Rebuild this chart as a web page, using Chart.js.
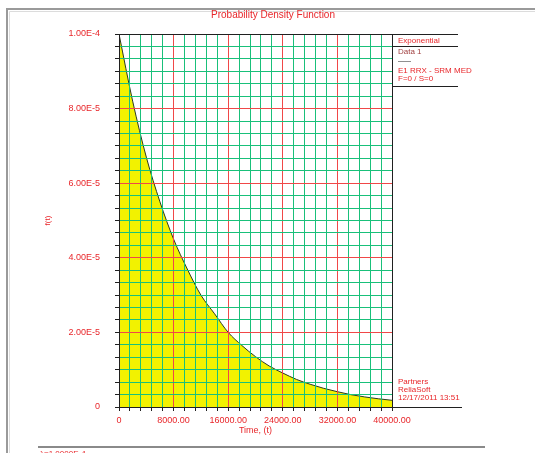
<!DOCTYPE html>
<html>
<head>
<meta charset="utf-8">
<script src="https://cdn.jsdelivr.net/npm/chart.js@4.4.1/dist/chart.umd.min.js"></script>
<style>
    html, body { margin: 0; padding: 0; background: #fff; }
    #wrap { position: relative; width: 535px; height: 453px; }
</style>
</head>
<body>
<div id="wrap"><canvas id="graficoPdf"></canvas></div>
<script>
// Valores: tiempo (t) y densidad f(t)
const tiempos = [0, 2000, 4000, 6000, 8000, 10000, 12000, 14000, 16000, 18000, 20000,
    22000, 24000, 26000, 28000, 30000, 32000, 34000, 36000, 38000, 40000];
const densidad = [1.00e-4, 8.2e-5, 6.7e-5, 5.5e-5, 4.5e-5, 3.7e-5, 3.0e-5, 2.5e-5, 2.0e-5, 1.65e-5, 1.35e-5,
    1.1e-5, 9.1e-6, 7.4e-6, 6.1e-6, 5.0e-6, 4.1e-6, 3.3e-6, 2.7e-6, 2.2e-6, 1.8e-6];

// Marcas de los ejes
const xTicks = [0, 8000, 16000, 24000, 32000, 40000];
const xTickLabels = ['0', '8000.00', '16000.00', '24000.00', '32000.00', '40000.00'];
const yTicks = [0, 2e-5, 4e-5, 6e-5, 8e-5, 1e-4];
const yTickLabels = ['0', '2.00E-5', '4.00E-5', '6.00E-5', '8.00E-5', '1.00E-4'];
const xDivisiones = 5; // lineas menores entre marcas
const yDivisiones = 6;

// Textos de la leyenda
const leyendaArriba = ['Exponential', 'Data 1', 'E1 RRX - SRM MED', 'F=0 / S=0'];
const leyendaAbajo = ['Partners', 'ReliaSoft', '12/17/2011 13:51'];

const ROJO = '#e8262a';
const VERDE = '#19c07a';
const FUENTE = '"Liberation Sans", Arial, sans-serif';

// Genera las marcas mayores y menores de la grilla
function construirTicks(mayores, etiquetas, divisiones) {
    const lista = [];
    for (let i = 0; i < mayores.length; i++) {
        lista.push({ value: mayores[i], texto: etiquetas[i] });
        if (i < mayores.length - 1) {
            const paso = (mayores[i + 1] - mayores[i]) / divisiones;
            for (let k = 1; k < divisiones; k++) {
                lista.push({ value: mayores[i] + paso * k });
            }
        }
    }
    return lista;
}

function colorGrilla(ctx) {
    return ctx.tick && ctx.tick.texto !== undefined ? '#f04848' : VERDE;
}

// Dibuja el marco, el titulo y la leyenda lateral
const marcoPlugin = {
    id: 'marco',
    afterDraw(chart) {
        const c = chart.ctx;
        const area = chart.chartArea;
        c.save();

        // marco gris exterior
        c.strokeStyle = '#9a9a9a';
        c.lineWidth = 2;
        c.beginPath();
        c.moveTo(7, 453);
        c.lineTo(7, 9);
        c.lineTo(535, 9);
        c.stroke();
        c.strokeStyle = '#dcdcdc';
        c.lineWidth = 1;
        c.beginPath();
        c.moveTo(9.5, 453);
        c.lineTo(9.5, 11.5);
        c.lineTo(535, 11.5);
        c.stroke();
        c.strokeStyle = '#8a8a8a';
        c.lineWidth = 2;
        c.beginPath();
        c.moveTo(38, 447);
        c.lineTo(485, 447);
        c.stroke();

        // bordes negros del area y lineas de la leyenda
        c.strokeStyle = '#202020';
        c.lineWidth = 1;
        const der = Math.round(area.right) + 0.5;
        c.beginPath();
        c.moveTo(area.left, Math.round(area.top) + 0.5);
        c.lineTo(458, Math.round(area.top) + 0.5);
        c.moveTo(der, area.top);
        c.lineTo(der, area.bottom);
        c.moveTo(der, 46.5);
        c.lineTo(458, 46.5);
        c.moveTo(der, 86.5);
        c.lineTo(458, 86.5);
        c.moveTo(der, Math.round(area.bottom) + 0.5);
        c.lineTo(462, Math.round(area.bottom) + 0.5);
        c.stroke();
        c.strokeStyle = '#909090';
        c.beginPath();
        c.moveTo(398, 61.5);
        c.lineTo(411, 61.5);
        c.stroke();

        // titulo
        c.fillStyle = ROJO;
        c.font = '10px ' + FUENTE;
        c.textAlign = 'center';
        c.textBaseline = 'middle';
        c.fillText('Probability Density Function', 273, 15);

        // leyenda
        c.textAlign = 'left';
        c.font = '8px ' + FUENTE;
        c.fillText(leyendaArriba[0], 398, 41);
        c.fillStyle = '#a04040';
        c.fillText(leyendaArriba[1], 398, 52);
        c.fillStyle = ROJO;
        c.fillText(leyendaArriba[2], 398, 71);
        c.fillText(leyendaArriba[3], 398, 79);
        leyendaAbajo.forEach((t, i) => c.fillText(t, 398, 382 + i * 8));

        // texto inferior recortado
        c.textBaseline = 'top';
        c.fillText('\u03bb=1.0000E-4', 40, 450);
        c.restore();
    }
};

const datos = tiempos.map((t, i) => ({ x: t, y: densidad[i] }));

new Chart(document.getElementById('graficoPdf'), {
    type: 'line',
    data: {
        datasets: [{
            label: 'Data 1',
            data: datos,
            borderColor: '#2a3a20',
            borderWidth: 1,
            backgroundColor: '#f2f200',
            fill: 'origin',
            pointRadius: 0,
            cubicInterpolationMode: 'monotone'
        }]
    },
    options: {
        responsive: true,
        maintainAspectRatio: false,
        animation: false,
        layout: { padding: { left: 8, top: 34, right: 143, bottom: 0 } },
        plugins: {
            legend: { display: false },
            tooltip: { enabled: false }
        },
        scales: {
            x: {
                type: 'linear',
                min: 0,
                max: 40000,
                afterBuildTicks: (scale) => { scale.ticks = construirTicks(xTicks, xTickLabels, xDivisiones); },
                afterFit: (scale) => { scale.height = 46; },
                grid: { color: colorGrilla, tickColor: '#202020', tickLength: 4, z: 1 },
                border: { display: true, color: '#202020', width: 1, z: 2 },
                ticks: {
                    autoSkip: false,
                    maxRotation: 0,
                    padding: 4,
                    color: ROJO,
                    font: { family: FUENTE, size: 9 },
                    callback: (v, i, ticks) => ticks[i].texto !== undefined ? ticks[i].texto : ''
                },
                title: {
                    display: true,
                    text: 'Time, (t)',
                    color: ROJO,
                    font: { family: FUENTE, size: 9 },
                    padding: { top: 0, bottom: 17 }
                }
            },
            y: {
                min: 0,
                max: 1e-4,
                afterBuildTicks: (scale) => { scale.ticks = construirTicks(yTicks, yTickLabels, yDivisiones); },
                afterFit: (scale) => { scale.width = 111; },
                grid: { color: colorGrilla, tickColor: '#202020', tickLength: 4, z: 1 },
                border: { display: true, color: '#202020', width: 1, z: 2 },
                ticks: {
                    autoSkip: false,
                    padding: 15,
                    color: ROJO,
                    font: { family: FUENTE, size: 9 },
                    callback: (v, i, ticks) => ticks[i].texto !== undefined ? ticks[i].texto : ''
                },
                title: {
                    display: true,
                    text: 'f(t)',
                    color: ROJO,
                    font: { family: FUENTE, size: 8 },
                    padding: { top: 35, bottom: 0 }
                }
            }
        }
    },
    plugins: [marcoPlugin]
});
</script>
</body>
</html>
